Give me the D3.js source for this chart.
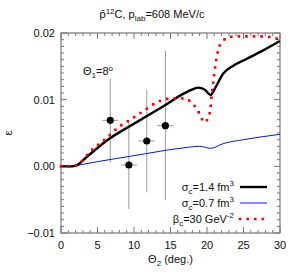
<!DOCTYPE html>
<html>
<head>
<meta charset="utf-8">
<script src="https://cdn.jsdelivr.net/npm/d3@7"></script>
<style>
  body { margin: 0; background: #fff; }
  text { font-family: "Liberation Sans", Arial, sans-serif; fill: #111; }
</style>
</head>
<body>
<svg id="chart" width="300" height="280"></svg>
<script>
// curves: [theta2, epsilon]
let sigma14 = [[0,0],[1.5,0],[2,0.0001],[2.5,0.0004],[3,0.0009],[4.5,0.0023],[6.7,0.0042],[9.4,0.006],
  [11.7,0.0075],[14.3,0.0092],[16.3,0.0106],[17.7,0.0114],[18.8,0.0118],[19.7,0.0115],[20.5,0.0107],
  [21.1,0.0117],[22.2,0.0139],[23.6,0.0151],[25.4,0.0161],[27.7,0.0174],[30,0.0188]];
let sigma07 = [[0,0],[1.5,0],[2,0.0001],[5,0.0007],[10,0.0016],[16.3,0.0027],[19,0.0030],[20.5,0.0027],
  [22.2,0.0034],[25,0.0040],[30,0.0048]];
let beta30 = [[0,0],[1.5,0],[2,0.0001],[2.4,0.0003],[3.2,0.0012],[3.9,0.0021],[4.7,0.0029],[6.3,0.0043],
  [7.9,0.0059],[9.5,0.007],[11.3,0.0083],[13.3,0.0097],[15.4,0.0102],[17,0.0102],[17.9,0.0095],
  [18.6,0.0086],[19.1,0.0076],[19.6,0.0066],[20.2,0.0073],[20.45,0.0086],[20.65,0.0107],[20.9,0.013],
  [21.2,0.0155],[21.6,0.0177],[22.2,0.0188],[23,0.0194],[25,0.0195],[27,0.0195],[28.5,0.0194],[30,0.019]];

// measured points: theta2, eps, d(theta), d(eps)
let dataTheta = [6.75, 9.3, 11.75, 14.3];
let dataEps = [0.0069, 0.0002, 0.0038, 0.0061];
let dataThetaErr = [1.1, 1.1, 1.1, 1.1];
let dataEpsErr = [0.0063, 0.0066, 0.0077, 0.0112];

let xTicks = [0, 5, 10, 15, 20, 25, 30];
let yTicks = [-0.01, 0, 0.01, 0.02];

let margin = {top: 33, right: 20, bottom: 47, left: 61};
let width = 300, height = 280;

let svg = d3.select("#chart");

let x = d3.scaleLinear().domain([0, 30]).range([margin.left, width - margin.right]);
let y = d3.scaleLinear().domain([-0.01, 0.02]).range([height - margin.bottom, margin.top]);

let axisColor = "#777";
let dotDash = "0,7.6";

// minor + major ticks, pointing inward on all four sides
let frame = svg.append("g");
d3.range(0, 31, 1).forEach(function(t) {
  let len = (t % 5 === 0) ? 6 : 3;
  frame.append("line").attr("x1", x(t)).attr("x2", x(t))
    .attr("y1", y.range()[0]).attr("y2", y.range()[0] - len).attr("stroke", axisColor);
  frame.append("line").attr("x1", x(t)).attr("x2", x(t))
    .attr("y1", y.range()[1]).attr("y2", y.range()[1] + len).attr("stroke", axisColor);
});
d3.range(-10, 21, 1).forEach(function(k) {
  let v = k / 1000;
  let len = (k % 10 === 0) ? 6 : 3;
  frame.append("line").attr("y1", y(v)).attr("y2", y(v))
    .attr("x1", x.range()[0]).attr("x2", x.range()[0] + len).attr("stroke", axisColor);
  frame.append("line").attr("y1", y(v)).attr("y2", y(v))
    .attr("x1", x.range()[1]).attr("x2", x.range()[1] - len).attr("stroke", axisColor);
});
frame.append("rect")
  .attr("x", x.range()[0]).attr("y", y.range()[1])
  .attr("width", x.range()[1] - x.range()[0])
  .attr("height", y.range()[0] - y.range()[1])
  .attr("fill", "none").attr("stroke", axisColor).attr("stroke-width", 1.2);

// tick labels
svg.append("g").selectAll("text").data(xTicks).join("text")
  .attr("x", d => x(d)).attr("y", y.range()[0] + 16)
  .attr("text-anchor", "middle").attr("font-size", 11).text(d => d);
svg.append("g").selectAll("text").data(yTicks).join("text")
  .attr("x", margin.left - 6).attr("y", d => y(d) + 4)
  .attr("text-anchor", "end").attr("font-size", 11).text(d => d3.format(".2f")(d));

// axis titles
let xl = svg.append("text").attr("x", x(15)).attr("y", 263)
  .attr("text-anchor", "middle").attr("font-size", 11);
xl.append("tspan").text("Θ");
xl.append("tspan").attr("font-size", 8).attr("dy", 3).text("2");
xl.append("tspan").attr("dy", -3).text(" (deg.)");

svg.append("text").attr("transform", "translate(12," + y(0.005) + ") rotate(-90)")
  .attr("text-anchor", "middle").attr("font-size", 11).text("ε");

// title
let title = svg.append("text").attr("x", 152).attr("y", 18)
  .attr("text-anchor", "middle").attr("font-size", 11);
title.append("tspan").text("p̄");
title.append("tspan").attr("font-size", 8).attr("dy", -4).text("12");
title.append("tspan").attr("dy", 4).text("C, p");
title.append("tspan").attr("font-size", 8).attr("dy", 3).text("lab");
title.append("tspan").attr("dy", -3).text("=608 MeV/c");

// annotation
let ann = svg.append("text").attr("x", 83).attr("y", 75).attr("font-size", 11);
ann.append("tspan").text("Θ");
ann.append("tspan").attr("font-size", 8).attr("dy", 3).text("1");
ann.append("tspan").attr("dy", -3).text("=8");
ann.append("tspan").attr("font-size", 8).attr("dy", -4).text("o");

let line = d3.line().x(d => x(d[0])).y(d => y(d[1])).curve(d3.curveMonotoneX);

let plot = svg.append("g");

// error bars + points
dataTheta.forEach(function(t, i) {
  plot.append("line").attr("x1", x(t)).attr("x2", x(t))
    .attr("y1", y(dataEps[i] - dataEpsErr[i])).attr("y2", y(dataEps[i] + dataEpsErr[i]))
    .attr("stroke", "#999").attr("stroke-width", 1);
  plot.append("line").attr("x1", x(t - dataThetaErr[i])).attr("x2", x(t + dataThetaErr[i]))
    .attr("y1", y(dataEps[i])).attr("y2", y(dataEps[i]))
    .attr("stroke", "#999").attr("stroke-width", 1);
});

plot.append("path").datum(sigma07).attr("d", line)
  .attr("fill", "none").attr("stroke", "#0018ff").attr("stroke-width", 1);
plot.append("path").datum(sigma14).attr("d", line)
  .attr("fill", "none").attr("stroke", "#000").attr("stroke-width", 2.4);
plot.append("path").datum(beta30).attr("d", line)
  .attr("fill", "none").attr("stroke", "#ff0000").attr("stroke-width", 2.6)
  .attr("stroke-linecap", "square").attr("stroke-dasharray", dotDash);

plot.selectAll("circle").data(dataTheta).join("circle")
  .attr("cx", d => x(d)).attr("cy", (d, i) => y(dataEps[i])).attr("r", 3.6).attr("fill", "#000");

// legend
let legend = [
  {name: "σ", sub: "c", rest: "=1.4 fm", sup: "3", color: "#000", w: 2.4, dash: null},
  {name: "σ", sub: "c", rest: "=0.7 fm", sup: "3", color: "#0018ff", w: 1, dash: null},
  {name: "β", sub: "c", rest: "=30 GeV", sup: "-2", color: "#ff0000", w: 2.6, dash: dotDash}
];
legend.forEach(function(l, i) {
  let ly = 187 + i * 16;
  let t = svg.append("text").attr("x", 234).attr("y", ly + 4)
    .attr("text-anchor", "end").attr("font-size", 11);
  t.append("tspan").text(l.name);
  t.append("tspan").attr("font-size", 8).attr("dy", 3).text(l.sub);
  t.append("tspan").attr("dy", -3).text(l.rest);
  t.append("tspan").attr("font-size", 8).attr("dy", -5).text(l.sup);
  let ln = svg.append("line").attr("x1", 240).attr("x2", 267).attr("y1", ly).attr("y2", ly)
    .attr("stroke", l.color).attr("stroke-width", l.w);
  if (l.dash) ln.attr("stroke-dasharray", l.dash).attr("stroke-linecap", "square");
});
</script>
</body>
</html>
